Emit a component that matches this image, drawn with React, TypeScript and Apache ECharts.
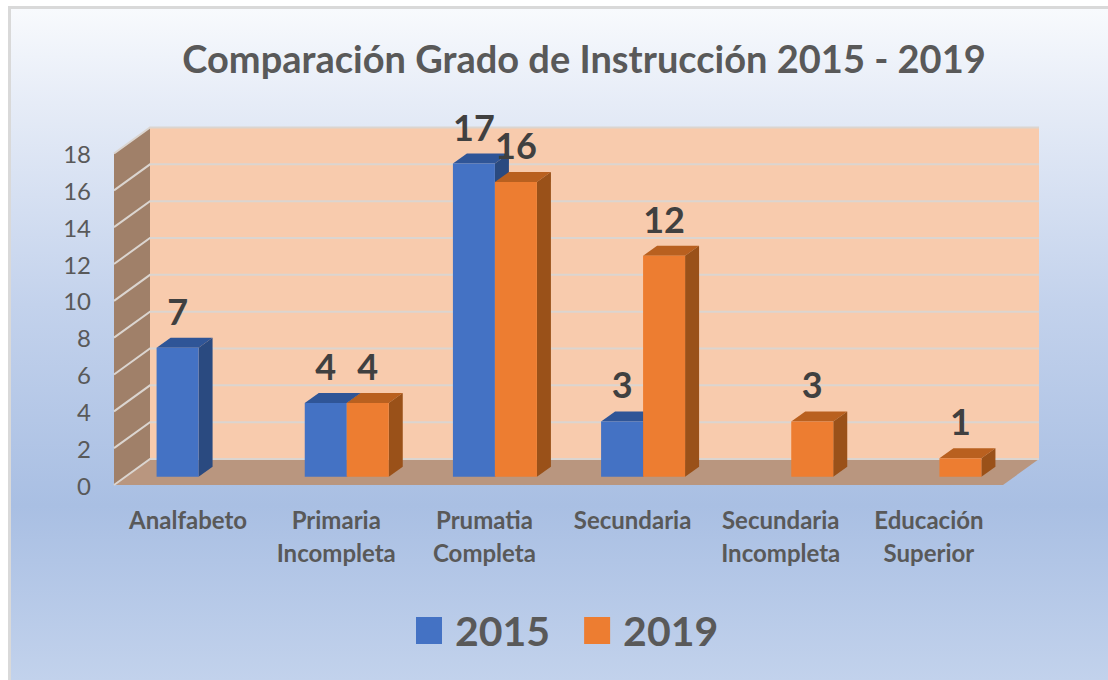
import React, { useEffect, useRef } from "react";
import * as echarts from "echarts";

const categories = [
  "Analfabeto",
  "Primaria\nIncompleta",
  "Prumatia\nCompleta",
  "Secundaria",
  "Secundaria\nIncompleta",
  "Educación\nSuperior",
];
const values2015: (number | null)[] = [7, 4, 17, 3, null, null];
const values2019: (number | null)[] = [null, 4, 16, 12, 3, 1];
const yTicks = [0, 2, 4, 6, 8, 10, 12, 14, 16, 18];
const seriesNames = ["2015", "2019"];

const FONT = "Lato, Carlito, 'Open Sans', sans-serif";
const TEXT = "#595959";
const BLUE = { front: "#4472c4", side: "#2a4a80", top: "#2f5597" };
const ORANGE = { front: "#ed7d31", side: "#9a5119", top: "#b9601f" };

const DEPTH_X = 36;
const DEPTH_Y = 26;
const BAR_W = 42;
const BAR_DX = 14;
const BAR_DY = 10;
const BAR_LIFT = 8.3;

function wallRenderer(params: any, api: any) {
  const { x, width } = params.coordSys;
  const r = x + width;
  const y0 = api.coord([0, 0])[1];
  const yMax = api.coord([0, 18])[1];
  const children: any[] = [
    {
      type: "polygon",
      shape: { points: [[x + DEPTH_X, yMax - DEPTH_Y], [r + DEPTH_X, yMax - DEPTH_Y], [r + DEPTH_X, y0 - DEPTH_Y], [x + DEPTH_X, y0 - DEPTH_Y]] },
      style: { fill: "#f8cbad" },
    },
    {
      type: "polygon",
      shape: { points: [[x, yMax], [x + DEPTH_X, yMax - DEPTH_Y], [x + DEPTH_X, y0 - DEPTH_Y], [x, y0]] },
      style: { fill: "#a08069" },
    },
    {
      type: "polygon",
      shape: { points: [[x, y0], [x + DEPTH_X, y0 - DEPTH_Y], [r + DEPTH_X, y0 - DEPTH_Y], [r, y0]] },
      style: { fill: "#b9967f" },
    },
  ];
  yTicks.forEach((t) => {
    const y = api.coord([0, t])[1];
    children.push({
      type: "polyline",
      shape: { points: [[x, y], [x + DEPTH_X, y - DEPTH_Y], [r + DEPTH_X, y - DEPTH_Y]] },
      style: { fill: "none", stroke: "#dbd5d0", lineWidth: 2 },
    });
  });
  return { type: "group", children };
}

function barRenderer(pal: typeof BLUE, slot: number) {
  return (_params: any, api: any) => {
    const v = api.value(1);
    if (v === null || v === undefined || Number.isNaN(v)) return null;
    const c = api.coord([api.value(0), v]);
    const base = api.coord([api.value(0), 0]);
    const l = c[0] + 10.5 + (slot - 1) * BAR_W;
    const r = l + BAR_W;
    const top = c[1] - BAR_LIFT;
    const bot = base[1] - BAR_LIFT;
    return {
      type: "group",
      children: [
        { type: "polygon", shape: { points: [[l, top], [l + BAR_DX, top - BAR_DY], [r + BAR_DX, top - BAR_DY], [r, top]] }, style: { fill: pal.top } },
        { type: "polygon", shape: { points: [[r, top], [r + BAR_DX, top - BAR_DY], [r + BAR_DX, bot - BAR_DY], [r, bot]] }, style: { fill: pal.side } },
        { type: "rect", shape: { x: l, y: top, width: BAR_W, height: bot - top }, style: { fill: pal.front } },
        {
          type: "text",
          style: {
            text: String(v),
            x: (l + r) / 2,
            y: top - 37,
            align: "center",
            verticalAlign: "middle",
            fontFamily: FONT,
            fontWeight: "bold",
            fontSize: 36,
            fill: "#404040",
          },
          z2: 20,
        },
      ],
    };
  };
}

export default function App() {
  const ref = useRef<HTMLDivElement>(null);
  useEffect(() => {
    document.body.style.margin = "0";
    const chart = echarts.init(ref.current!, undefined, { renderer: "svg" });
    chart.setOption({
      animation: false,
      backgroundColor: "#ffffff",
      graphic: [
        { type: "rect", z: -10, silent: true, shape: { x: 8, y: 6, width: 1100, height: 674 }, style: { fill: "#d9d9d9" } },
        {
          type: "rect",
          z: -9,
          silent: true,
          shape: { x: 11, y: 9, width: 1097, height: 671 },
          style: {
            fill: new echarts.graphic.LinearGradient(0, 0, 0, 1, [
              { offset: 0, color: "#f8fafd" },
              { offset: 0.14, color: "#e6ecf7" },
              { offset: 0.44, color: "#c3d2ec" },
              { offset: 0.74, color: "#a9bfe3" },
              { offset: 1, color: "#c2d2ec" },
            ]),
          },
        },
      ],
      title: {
        text: "Comparación Grado de Instrucción 2015 - 2019",
        left: 579,
        top: 34,
        textAlign: "center",
        textStyle: { fontFamily: FONT, fontWeight: "bold", fontSize: 38, color: TEXT },
      },
      legend: {
        data: seriesNames,
        left: 411,
        top: 605,
        icon: "rect",
        itemWidth: 26,
        itemHeight: 27,
        itemGap: 34,
        selectedMode: false,
        textStyle: { fontFamily: FONT, fontWeight: "bold", fontSize: 41, color: TEXT, padding: [0, 0, 0, 8] },
      },
      grid: { left: 114, top: 153.5, width: 889, height: 331.5 },
      xAxis: {
        type: "category",
        data: categories,
        axisLine: { show: false },
        axisTick: { show: false },
        axisLabel: {
          interval: 0,
          margin: 18,
          fontFamily: FONT,
          fontWeight: "bold",
          fontSize: 24,
          lineHeight: 33,
          color: TEXT,
        },
      },
      yAxis: {
        type: "value",
        min: 0,
        max: 18,
        interval: 2,
        splitLine: { show: false },
        axisLine: { show: false },
        axisTick: { show: false },
        axisLabel: { margin: 23, fontFamily: FONT, fontSize: 24, color: TEXT },
      },
      series: [
        {
          type: "custom",
          name: "paredes",
          silent: true,
          clip: false,
          z: 1,
          renderItem: wallRenderer,
          data: [[0, 0]],
          encode: { x: 0, y: 1 },
        },
        {
          type: "custom",
          name: seriesNames[0],
          silent: true,
          clip: false,
          z: 2,
          itemStyle: { color: BLUE.front },
          renderItem: barRenderer(BLUE, 0),
          data: values2015.map((v, i) => [i, v]),
          encode: { x: 0, y: 1 },
        },
        {
          type: "custom",
          name: seriesNames[1],
          silent: true,
          clip: false,
          z: 3,
          itemStyle: { color: ORANGE.front },
          renderItem: barRenderer(ORANGE, 1),
          data: values2019.map((v, i) => [i, v]),
          encode: { x: 0, y: 1 },
        },
      ],
    });
    return () => chart.dispose();
  }, []);
  return <div ref={ref} style={{ width: 1108, height: 680 }} />;
}
